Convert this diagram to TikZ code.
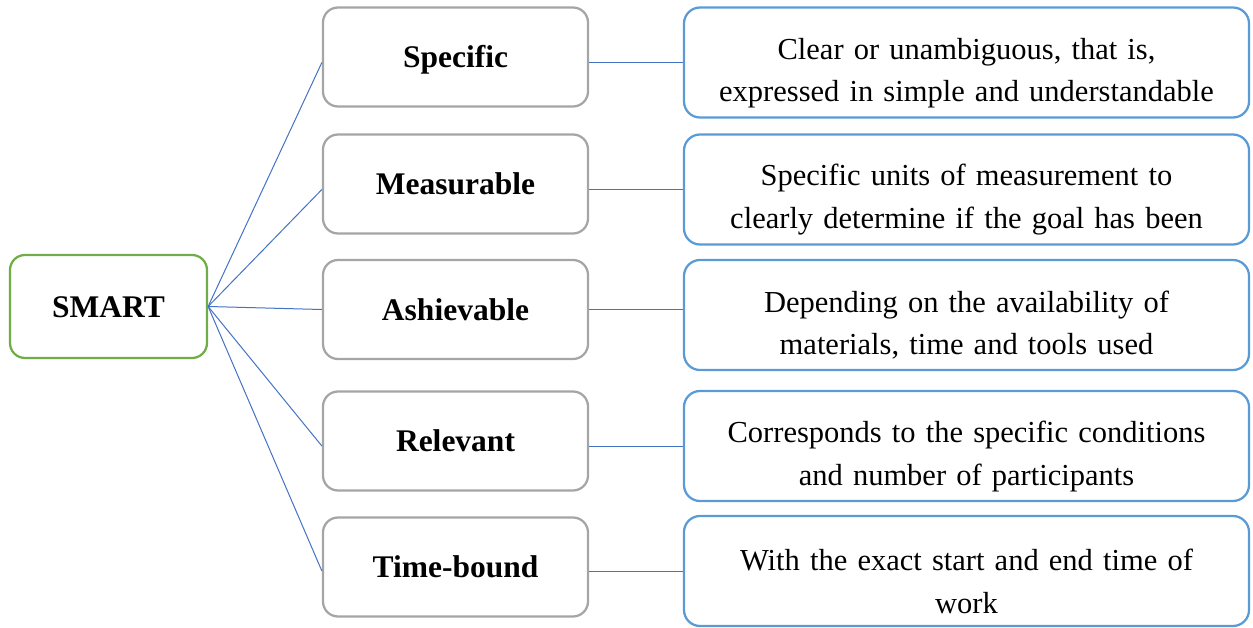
\documentclass[tikz,border=0pt]{standalone}
\usepackage{fontspec}
\setmainfont{Liberation Serif}
\begin{document}
\begin{tikzpicture}[x=1pt,y=-1pt,
    rootbox/.style={draw=r112g173b71, line width=2.25pt, rounded corners=15pt,
      minimum width=197pt, minimum height=103pt, text height=21pt, text depth=0pt,
      font=\fontsize{31.5}{43}\selectfont\bfseries},
    termbox/.style={draw=r165g165b165, line width=2.25pt, rounded corners=15pt,
      minimum width=265pt, minimum height=99pt, text height=21pt, text depth=0pt,
      font=\fontsize{31.5}{43}\selectfont\bfseries},
    notebox/.style={draw=r91g155b213, line width=2.25pt, rounded corners=16pt,
      minimum width=565pt, minimum height=110pt, text width=555pt, align=center,
      text height=42pt, font=\fontsize{30.5}{42.5}\selectfont},
    link/.style={draw=r68g114b196, line width=1pt}]
                    \useasboundingbox (0,0) rectangle (1253,628);
                    
                    % Changing colors
                    \definecolor{r112g173b71}{RGB}{112,173,71}%
                    \definecolor{r165g165b165}{RGB}{165,165,165}%
                    \definecolor{r91g155b213}{RGB}{91,155,213}%
                    \definecolor{r68g114b196}{RGB}{68,114,196}%
                    
                    % Drawing root box
                    \node [rootbox] (smart) at (108.5,306.5) {SMART};%
                    
                    % Drawing term boxes
                    \node [termbox] (specific) at (455.5,57) {Specific};%
                    \node [termbox] (measurable) at (455.5,184) {Measurable};%
                    \node [termbox] (achievable) at (455.5,309.5) {Ashievable};%
                    \node [termbox] (relevant) at (455.5,441) {Relevant};%
                    \node [termbox] (timebound) at (455.5,567) {Time-bound};%
                    
                    % Drawing note boxes
                    \node [notebox] (clear) at (966.5,62.5) {Clear or unambiguous, that is,\\expressed in simple and understandable};%
                    \node [notebox] (units) at (966.5,189.5) {Specific units of measurement to\\clearly determine if the goal has been};%
                    \node [notebox] (depending) at (966.5,315) {Depending on the availability of\\materials, time and tools used};%
                    \node [notebox] (corresponds) at (966.5,446) {Corresponds to the specific conditions\\and number of participants};%
                    \node [notebox] (exact) at (966.5,571) {With the exact start and end time of\\work};%
                    
                    % Drawing links root to terms
                    \draw [link] (smart.east) -- (specific.west |- clear.west);%
                    \draw [link] (smart.east) -- (measurable.west |- units.west);%
                    \draw [link] (smart.east) -- (achievable.west);%
                    \draw [link] (smart.east) -- (relevant.west |- corresponds.west);%
                    \draw [link] (smart.east) -- (timebound.west |- exact.west);%
                    
                    % Drawing links terms to notes
                    \draw [link] (specific.east |- clear.west) -- (clear.west);%
                    \draw [link] (measurable.east |- units.west) -- (units.west);%
                    \draw [link] (achievable.east) -- (achievable.east -| depending.west);%
                    \draw [link] (relevant.east |- corresponds.west) -- (corresponds.west);%
                    \draw [link] (timebound.east |- exact.west) -- (exact.west);%
\end{tikzpicture}
\end{document}
